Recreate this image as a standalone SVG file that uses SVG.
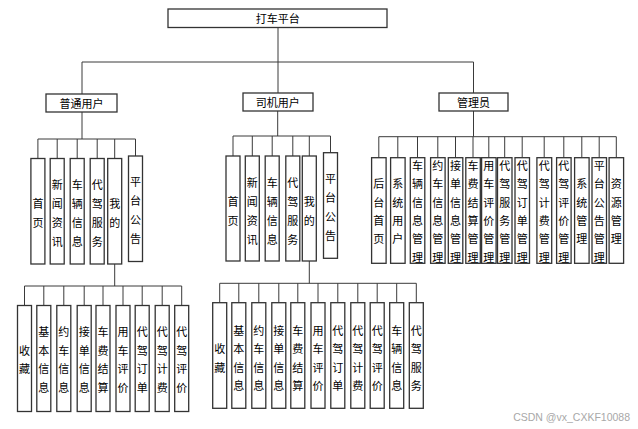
<svg xmlns="http://www.w3.org/2000/svg" width="638" height="429" viewBox="0 0 638 429">
<style>
.box{fill:#fff;stroke:#333;stroke-width:1.3}
.ln{fill:none;stroke:#3a3a3a;stroke-width:1}
text{font-family:"Noto Sans CJK SC","Liberation Sans",sans-serif;font-size:11px;fill:#000;text-anchor:middle;dominant-baseline:central}
.wm{font-family:"Liberation Sans","Noto Sans",sans-serif;font-size:10.5px;fill:#a8a8a8;text-anchor:end;dominant-baseline:auto}
</style>
<rect width="638" height="429" fill="#fff"/>
<g id="connectors">
<path class="ln" d="M278 27.5V62M82 62H473.5M82 62V94M278 62V93M473.5 62V93"/>
<path class="ln" d="M82 112V139M37.9 139H135.5M37.9 139V158.5M57.2 139V158.5M77.2 139V158.5M97.2 139V158.5M114.7 139V158.5M135.5 139V156"/>
<path class="ln" d="M277.7 111V136M233 136H330.5M233 136V156M252.3 136V156M272.2 136V156M292.8 136V156M309.3 136V156M330.5 136V152.7"/>
<path class="ln" d="M473.5 111V136.7M378.8 136.7H616.3M378.8 136.7V157.7M397.8 136.7V157.7M417.5 136.7V157.7M437.8 136.7V157.7M455.5 136.7V157.7M473 136.7V157.7M488.8 136.7V157.7M504.7 136.7V157.7M522.2 136.7V157.7M544.2 136.7V157.7M563.8 136.7V157.7M581.8 136.7V157.7M599.2 136.7V157.7M616.3 136.7V157.7"/>
<path class="ln" d="M114.7 264V286M24.5 286H181.7M24.5 286V305.5M43.8 286V305.5M63.8 286V305.5M84.2 286V305.5M103 286V305.5M123 286V305.5M142.2 286V305.5M162.2 286V305.5M181.7 286V305.5"/>
<path class="ln" d="M309.3 261V283.3M219.7 283.3H416.3M219.7 283.3V302.7M238.8 283.3V302.7M258.8 283.3V302.7M278.8 283.3V302.7M297.8 283.3V302.7M318 283.3V302.7M337.8 283.3V302.7M357.8 283.3V302.7M377.2 283.3V302.7M396.7 283.3V302.7M416.3 283.3V302.7"/>
</g>
<g id="root"><rect class="box" x="168" y="9" width="219" height="18.5"/><text x="277.7" y="18.3">打车平台</text></g>
<g id="user"><rect class="box" x="46" y="94" width="71" height="18"/><text x="81.5" y="103">普通用户</text></g>
<g id="driver"><rect class="box" x="243" y="93" width="70" height="18"/><text x="277.7" y="102">司机用户</text></g>
<g id="admin"><rect class="box" x="439" y="93" width="69" height="18"/><text x="473.5" y="102">管理员</text></g>

<g id="u-home"><rect class="box" x="30.9" y="158.5" width="14" height="105.5"/><text><tspan x="37.9" y="202.5">首</tspan><tspan x="37.9" y="221.5">页</tspan></text></g>
<g id="u-news"><rect class="box" x="50.2" y="158.5" width="14" height="105.5"/><text><tspan x="57.2" y="183.5">新</tspan><tspan x="57.2" y="202.5">闻</tspan><tspan x="57.2" y="221.5">资</tspan><tspan x="57.2" y="240.5">讯</tspan></text></g>
<g id="u-car"><rect class="box" x="70.2" y="158.5" width="14" height="105.5"/><text><tspan x="77.2" y="183.5">车</tspan><tspan x="77.2" y="202.5">辆</tspan><tspan x="77.2" y="221.5">信</tspan><tspan x="77.2" y="240.5">息</tspan></text></g>
<g id="u-service"><rect class="box" x="90.2" y="158.5" width="14" height="105.5"/><text><tspan x="97.2" y="183.5">代</tspan><tspan x="97.2" y="202.5">驾</tspan><tspan x="97.2" y="221.5">服</tspan><tspan x="97.2" y="240.5">务</tspan></text></g>
<g id="u-mine"><rect class="box" x="107.7" y="158.5" width="14" height="105.5"/><text><tspan x="114.7" y="202.5">我</tspan><tspan x="114.7" y="221.5">的</tspan></text></g>
<g id="u-notice"><rect class="box" x="128.5" y="156" width="14" height="105.5"/><text><tspan x="135.5" y="181">平</tspan><tspan x="135.5" y="200">台</tspan><tspan x="135.5" y="219">公</tspan><tspan x="135.5" y="238">告</tspan></text></g>

<g id="d-home"><rect class="box" x="226" y="156" width="14" height="105"/><text><tspan x="233" y="200.5">首</tspan><tspan x="233" y="219.5">页</tspan></text></g>
<g id="d-news"><rect class="box" x="245.3" y="156" width="14" height="105"/><text><tspan x="252.3" y="181.5">新</tspan><tspan x="252.3" y="200.5">闻</tspan><tspan x="252.3" y="219.5">资</tspan><tspan x="252.3" y="238.5">讯</tspan></text></g>
<g id="d-car"><rect class="box" x="265.2" y="156" width="14" height="105"/><text><tspan x="272.2" y="181.5">车</tspan><tspan x="272.2" y="200.5">辆</tspan><tspan x="272.2" y="219.5">信</tspan><tspan x="272.2" y="238.5">息</tspan></text></g>
<g id="d-service"><rect class="box" x="285.8" y="156" width="14" height="105"/><text><tspan x="292.8" y="181.5">代</tspan><tspan x="292.8" y="200.5">驾</tspan><tspan x="292.8" y="219.5">服</tspan><tspan x="292.8" y="238.5">务</tspan></text></g>
<g id="d-mine"><rect class="box" x="302.3" y="156" width="14" height="105"/><text><tspan x="309.3" y="200.5">我</tspan><tspan x="309.3" y="219.5">的</tspan></text></g>
<g id="d-notice"><rect class="box" x="323.5" y="152.7" width="14" height="105.6"/><text><tspan x="330.5" y="178.2">平</tspan><tspan x="330.5" y="197.2">台</tspan><tspan x="330.5" y="216.2">公</tspan><tspan x="330.5" y="235.2">告</tspan></text></g>

<g id="a-home"><rect class="box" x="371.6" y="157.7" width="14.5" height="105.6"/><text><tspan x="378.8" y="183.3">后</tspan><tspan x="378.8" y="201.6">台</tspan><tspan x="378.8" y="219.9">首</tspan><tspan x="378.8" y="238.2">页</tspan></text></g>
<g id="a-sysuser"><rect class="box" x="390.6" y="157.7" width="14.5" height="105.6"/><text><tspan x="397.8" y="183.3">系</tspan><tspan x="397.8" y="201.6">统</tspan><tspan x="397.8" y="219.9">用</tspan><tspan x="397.8" y="238.2">户</tspan></text></g>
<g id="a-car"><rect class="box" x="410.3" y="157.7" width="14.5" height="105.6"/><text><tspan x="417.5" y="165">车</tspan><tspan x="417.5" y="183.3">辆</tspan><tspan x="417.5" y="201.6">信</tspan><tspan x="417.5" y="219.9">息</tspan><tspan x="417.5" y="238.2">管</tspan><tspan x="417.5" y="256.5">理</tspan></text></g>
<g id="a-booking"><rect class="box" x="430.6" y="157.7" width="14.5" height="105.6"/><text><tspan x="437.8" y="165">约</tspan><tspan x="437.8" y="183.3">车</tspan><tspan x="437.8" y="201.6">信</tspan><tspan x="437.8" y="219.9">息</tspan><tspan x="437.8" y="238.2">管</tspan><tspan x="437.8" y="256.5">理</tspan></text></g>
<g id="a-order"><rect class="box" x="448.3" y="157.7" width="14.5" height="105.6"/><text><tspan x="455.5" y="165">接</tspan><tspan x="455.5" y="183.3">单</tspan><tspan x="455.5" y="201.6">信</tspan><tspan x="455.5" y="219.9">息</tspan><tspan x="455.5" y="238.2">管</tspan><tspan x="455.5" y="256.5">理</tspan></text></g>
<g id="a-fare"><rect class="box" x="465.8" y="157.7" width="14.5" height="105.6"/><text><tspan x="473" y="165">车</tspan><tspan x="473" y="183.3">费</tspan><tspan x="473" y="201.6">结</tspan><tspan x="473" y="219.9">算</tspan><tspan x="473" y="238.2">管</tspan><tspan x="473" y="256.5">理</tspan></text></g>
<g id="a-review"><rect class="box" x="481.6" y="157.7" width="14.5" height="105.6"/><text><tspan x="488.8" y="165">用</tspan><tspan x="488.8" y="183.3">车</tspan><tspan x="488.8" y="201.6">评</tspan><tspan x="488.8" y="219.9">价</tspan><tspan x="488.8" y="238.2">管</tspan><tspan x="488.8" y="256.5">理</tspan></text></g>
<g id="a-dservice"><rect class="box" x="497.5" y="157.7" width="14.5" height="105.6"/><text><tspan x="504.7" y="165">代</tspan><tspan x="504.7" y="183.3">驾</tspan><tspan x="504.7" y="201.6">服</tspan><tspan x="504.7" y="219.9">务</tspan><tspan x="504.7" y="238.2">管</tspan><tspan x="504.7" y="256.5">理</tspan></text></g>
<g id="a-dorder"><rect class="box" x="515" y="157.7" width="14.5" height="105.6"/><text><tspan x="522.2" y="165">代</tspan><tspan x="522.2" y="183.3">驾</tspan><tspan x="522.2" y="201.6">订</tspan><tspan x="522.2" y="219.9">单</tspan><tspan x="522.2" y="238.2">管</tspan><tspan x="522.2" y="256.5">理</tspan></text></g>
<g id="a-dfee"><rect class="box" x="536.9" y="157.7" width="14.8" height="105.6"/><text><tspan x="544.2" y="165">代</tspan><tspan x="544.2" y="183.3">驾</tspan><tspan x="544.2" y="201.6">计</tspan><tspan x="544.2" y="219.9">费</tspan><tspan x="544.2" y="238.2">管</tspan><tspan x="544.2" y="256.5">理</tspan></text></g>
<g id="a-dreview"><rect class="box" x="556.6" y="157.7" width="14.5" height="105.6"/><text><tspan x="563.8" y="165">代</tspan><tspan x="563.8" y="183.3">驾</tspan><tspan x="563.8" y="201.6">评</tspan><tspan x="563.8" y="219.9">价</tspan><tspan x="563.8" y="238.2">管</tspan><tspan x="563.8" y="256.5">理</tspan></text></g>
<g id="a-system"><rect class="box" x="574.6" y="157.7" width="14.5" height="105.6"/><text><tspan x="581.8" y="183.3">系</tspan><tspan x="581.8" y="201.6">统</tspan><tspan x="581.8" y="219.9">管</tspan><tspan x="581.8" y="238.2">理</tspan></text></g>
<g id="a-notice"><rect class="box" x="592" y="157.7" width="14.5" height="105.6"/><text><tspan x="599.2" y="165">平</tspan><tspan x="599.2" y="183.3">台</tspan><tspan x="599.2" y="201.6">公</tspan><tspan x="599.2" y="219.9">告</tspan><tspan x="599.2" y="238.2">管</tspan><tspan x="599.2" y="256.5">理</tspan></text></g>
<g id="a-resource"><rect class="box" x="609.1" y="157.7" width="14.5" height="105.6"/><text><tspan x="616.3" y="183.3">资</tspan><tspan x="616.3" y="201.6">源</tspan><tspan x="616.3" y="219.9">管</tspan><tspan x="616.3" y="238.2">理</tspan></text></g>

<g id="um-fav"><rect class="box" x="17.5" y="305.5" width="14" height="106"/><text><tspan x="24.5" y="349.8">收</tspan><tspan x="24.5" y="368.3">藏</tspan></text></g>
<g id="um-info"><rect class="box" x="36.8" y="305.5" width="14" height="106"/><text><tspan x="43.8" y="331.3">基</tspan><tspan x="43.8" y="349.8">本</tspan><tspan x="43.8" y="368.3">信</tspan><tspan x="43.8" y="386.8">息</tspan></text></g>
<g id="um-booking"><rect class="box" x="56.8" y="305.5" width="14" height="106"/><text><tspan x="63.8" y="331.3">约</tspan><tspan x="63.8" y="349.8">车</tspan><tspan x="63.8" y="368.3">信</tspan><tspan x="63.8" y="386.8">息</tspan></text></g>
<g id="um-order"><rect class="box" x="77.2" y="305.5" width="14" height="106"/><text><tspan x="84.2" y="331.3">接</tspan><tspan x="84.2" y="349.8">单</tspan><tspan x="84.2" y="368.3">信</tspan><tspan x="84.2" y="386.8">息</tspan></text></g>
<g id="um-fare"><rect class="box" x="96" y="305.5" width="14" height="106"/><text><tspan x="103" y="331.3">车</tspan><tspan x="103" y="349.8">费</tspan><tspan x="103" y="368.3">结</tspan><tspan x="103" y="386.8">算</tspan></text></g>
<g id="um-review"><rect class="box" x="116" y="305.5" width="14" height="106"/><text><tspan x="123" y="331.3">用</tspan><tspan x="123" y="349.8">车</tspan><tspan x="123" y="368.3">评</tspan><tspan x="123" y="386.8">价</tspan></text></g>
<g id="um-dorder"><rect class="box" x="135.2" y="305.5" width="14" height="106"/><text><tspan x="142.2" y="331.3">代</tspan><tspan x="142.2" y="349.8">驾</tspan><tspan x="142.2" y="368.3">订</tspan><tspan x="142.2" y="386.8">单</tspan></text></g>
<g id="um-dfee"><rect class="box" x="155.2" y="305.5" width="14" height="106"/><text><tspan x="162.2" y="331.3">代</tspan><tspan x="162.2" y="349.8">驾</tspan><tspan x="162.2" y="368.3">计</tspan><tspan x="162.2" y="386.8">费</tspan></text></g>
<g id="um-dreview"><rect class="box" x="174.7" y="305.5" width="14" height="106"/><text><tspan x="181.7" y="331.3">代</tspan><tspan x="181.7" y="349.8">驾</tspan><tspan x="181.7" y="368.3">评</tspan><tspan x="181.7" y="386.8">价</tspan></text></g>

<g id="dm-fav"><rect class="box" x="212.7" y="302.7" width="14" height="105.6"/><text><tspan x="219.7" y="348.3">收</tspan><tspan x="219.7" y="366.8">藏</tspan></text></g>
<g id="dm-info"><rect class="box" x="231.8" y="302.7" width="14" height="105.6"/><text><tspan x="238.8" y="329.8">基</tspan><tspan x="238.8" y="348.3">本</tspan><tspan x="238.8" y="366.8">信</tspan><tspan x="238.8" y="385.3">息</tspan></text></g>
<g id="dm-booking"><rect class="box" x="251.8" y="302.7" width="14" height="105.6"/><text><tspan x="258.8" y="329.8">约</tspan><tspan x="258.8" y="348.3">车</tspan><tspan x="258.8" y="366.8">信</tspan><tspan x="258.8" y="385.3">息</tspan></text></g>
<g id="dm-order"><rect class="box" x="271.8" y="302.7" width="14" height="105.6"/><text><tspan x="278.8" y="329.8">接</tspan><tspan x="278.8" y="348.3">单</tspan><tspan x="278.8" y="366.8">信</tspan><tspan x="278.8" y="385.3">息</tspan></text></g>
<g id="dm-fare"><rect class="box" x="290.8" y="302.7" width="14" height="105.6"/><text><tspan x="297.8" y="329.8">车</tspan><tspan x="297.8" y="348.3">费</tspan><tspan x="297.8" y="366.8">结</tspan><tspan x="297.8" y="385.3">算</tspan></text></g>
<g id="dm-review"><rect class="box" x="311" y="302.7" width="14" height="105.6"/><text><tspan x="318" y="329.8">用</tspan><tspan x="318" y="348.3">车</tspan><tspan x="318" y="366.8">评</tspan><tspan x="318" y="385.3">价</tspan></text></g>
<g id="dm-dorder"><rect class="box" x="330.8" y="302.7" width="14" height="105.6"/><text><tspan x="337.8" y="329.8">代</tspan><tspan x="337.8" y="348.3">驾</tspan><tspan x="337.8" y="366.8">订</tspan><tspan x="337.8" y="385.3">单</tspan></text></g>
<g id="dm-dfee"><rect class="box" x="350.8" y="302.7" width="14" height="105.6"/><text><tspan x="357.8" y="329.8">代</tspan><tspan x="357.8" y="348.3">驾</tspan><tspan x="357.8" y="366.8">计</tspan><tspan x="357.8" y="385.3">费</tspan></text></g>
<g id="dm-dreview"><rect class="box" x="370.2" y="302.7" width="14" height="105.6"/><text><tspan x="377.2" y="329.8">代</tspan><tspan x="377.2" y="348.3">驾</tspan><tspan x="377.2" y="366.8">评</tspan><tspan x="377.2" y="385.3">价</tspan></text></g>
<g id="dm-car"><rect class="box" x="389.7" y="302.7" width="14" height="105.6"/><text><tspan x="396.7" y="329.8">车</tspan><tspan x="396.7" y="348.3">辆</tspan><tspan x="396.7" y="366.8">信</tspan><tspan x="396.7" y="385.3">息</tspan></text></g>
<g id="dm-service"><rect class="box" x="409.3" y="302.7" width="14" height="105.6"/><text><tspan x="416.3" y="329.8">代</tspan><tspan x="416.3" y="348.3">驾</tspan><tspan x="416.3" y="366.8">服</tspan><tspan x="416.3" y="385.3">务</tspan></text></g>

<text class="wm" x="630" y="421">CSDN @vx_CXKF10088</text>
</svg>
